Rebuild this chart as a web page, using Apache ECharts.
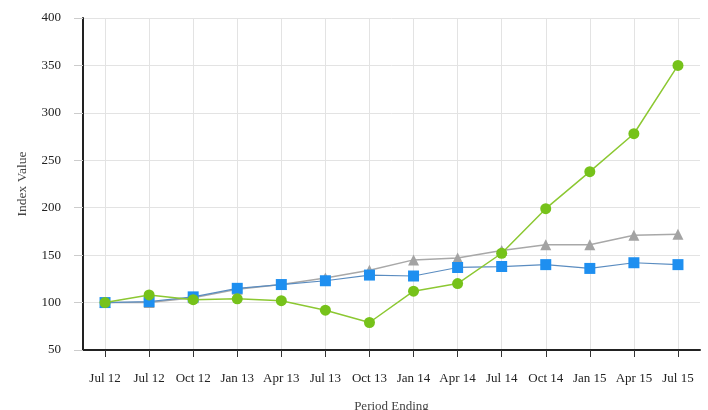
<!DOCTYPE html>
<html>
<head>
<meta charset="utf-8">
<script src="https://cdn.jsdelivr.net/npm/echarts@6/dist/echarts.min.js"></script>
<style>html,body{margin:0;padding:0;background:#fff}#c{width:708px;height:410px}</style>
</head>
<body>
<div id="c"></div>
<script>
const categories = ['Jul 12','Jul 12','Oct 12','Jan 13','Apr 13','Jul 13','Oct 13','Jan 14','Apr 14','Jul 14','Oct 14','Jan 15','Apr 15','Jul 15'];
const graySeries  = [100, 100, 105, 114, 119, 126, 134, 145, 147, 155, 161, 161, 171, 172];
const blueSeries  = [100, 101, 106, 115, 119, 123, 129, 128, 137, 138, 140, 136, 142, 140];
const greenSeries = [100, 108, 103, 104, 102, 92, 79, 112, 120, 152, 199, 238, 278, 350];
const yTicks = [50, 400, 50];

const font = 'Liberation Serif';
const chart = echarts.init(document.getElementById('c'));
chart.setOption({
  animation: false,
  grid: {left: 83, right: 8, top: 18, bottom: 60, containLabel: false, outerBoundsMode: 'none'},
  xAxis: {
    type: 'category', data: categories, boundaryGap: true,
    name: 'Period Ending', nameLocation: 'middle', nameGap: 50,
    nameTextStyle: {fontFamily: font, fontSize: 13, color: '#444'},
    axisLine: {lineStyle: {color: '#222', width: 2}},
    axisTick: {show: true, alignWithLabel: true, length: 7, lineStyle: {color: '#333'}},
    axisLabel: {fontFamily: font, fontSize: 13, color: '#222', margin: 22, interval: 0},
    splitLine: {show: true, alignWithLabel: true, lineStyle: {color: '#e3e3e3'}}
  },
  yAxis: {
    type: 'value', min: yTicks[0], max: yTicks[1], interval: yTicks[2],
    name: 'Index Value', nameLocation: 'middle', nameGap: 54, nameRotate: 90,
    nameTextStyle: {fontFamily: font, fontSize: 13.5, color: '#444'},
    axisLine: {show: true, lineStyle: {color: '#222', width: 2}},
    axisTick: {show: true, length: 9, lineStyle: {color: '#ccc'}},
    axisLabel: {fontFamily: font, fontSize: 13, color: '#222', margin: 22},
    splitLine: {show: true, lineStyle: {color: '#e3e3e3'}}
  },
  series: [
    {type: 'line', data: graySeries, symbol: 'triangle', symbolSize: 11,
     itemStyle: {color: '#a3a3a3'}, lineStyle: {color: '#a8a8a8', width: 1.5}, z: 2},
    {type: 'line', data: blueSeries, symbol: 'rect', symbolSize: 11,
     itemStyle: {color: '#1e8ff0'}, lineStyle: {color: '#5a8cc0', width: 1.2}, z: 3},
    {type: 'line', data: greenSeries, symbol: 'circle', symbolSize: 11,
     itemStyle: {color: '#76c21a'}, lineStyle: {color: '#8cc832', width: 1.5}, z: 4}
  ]
});
</script>
</body>
</html>
